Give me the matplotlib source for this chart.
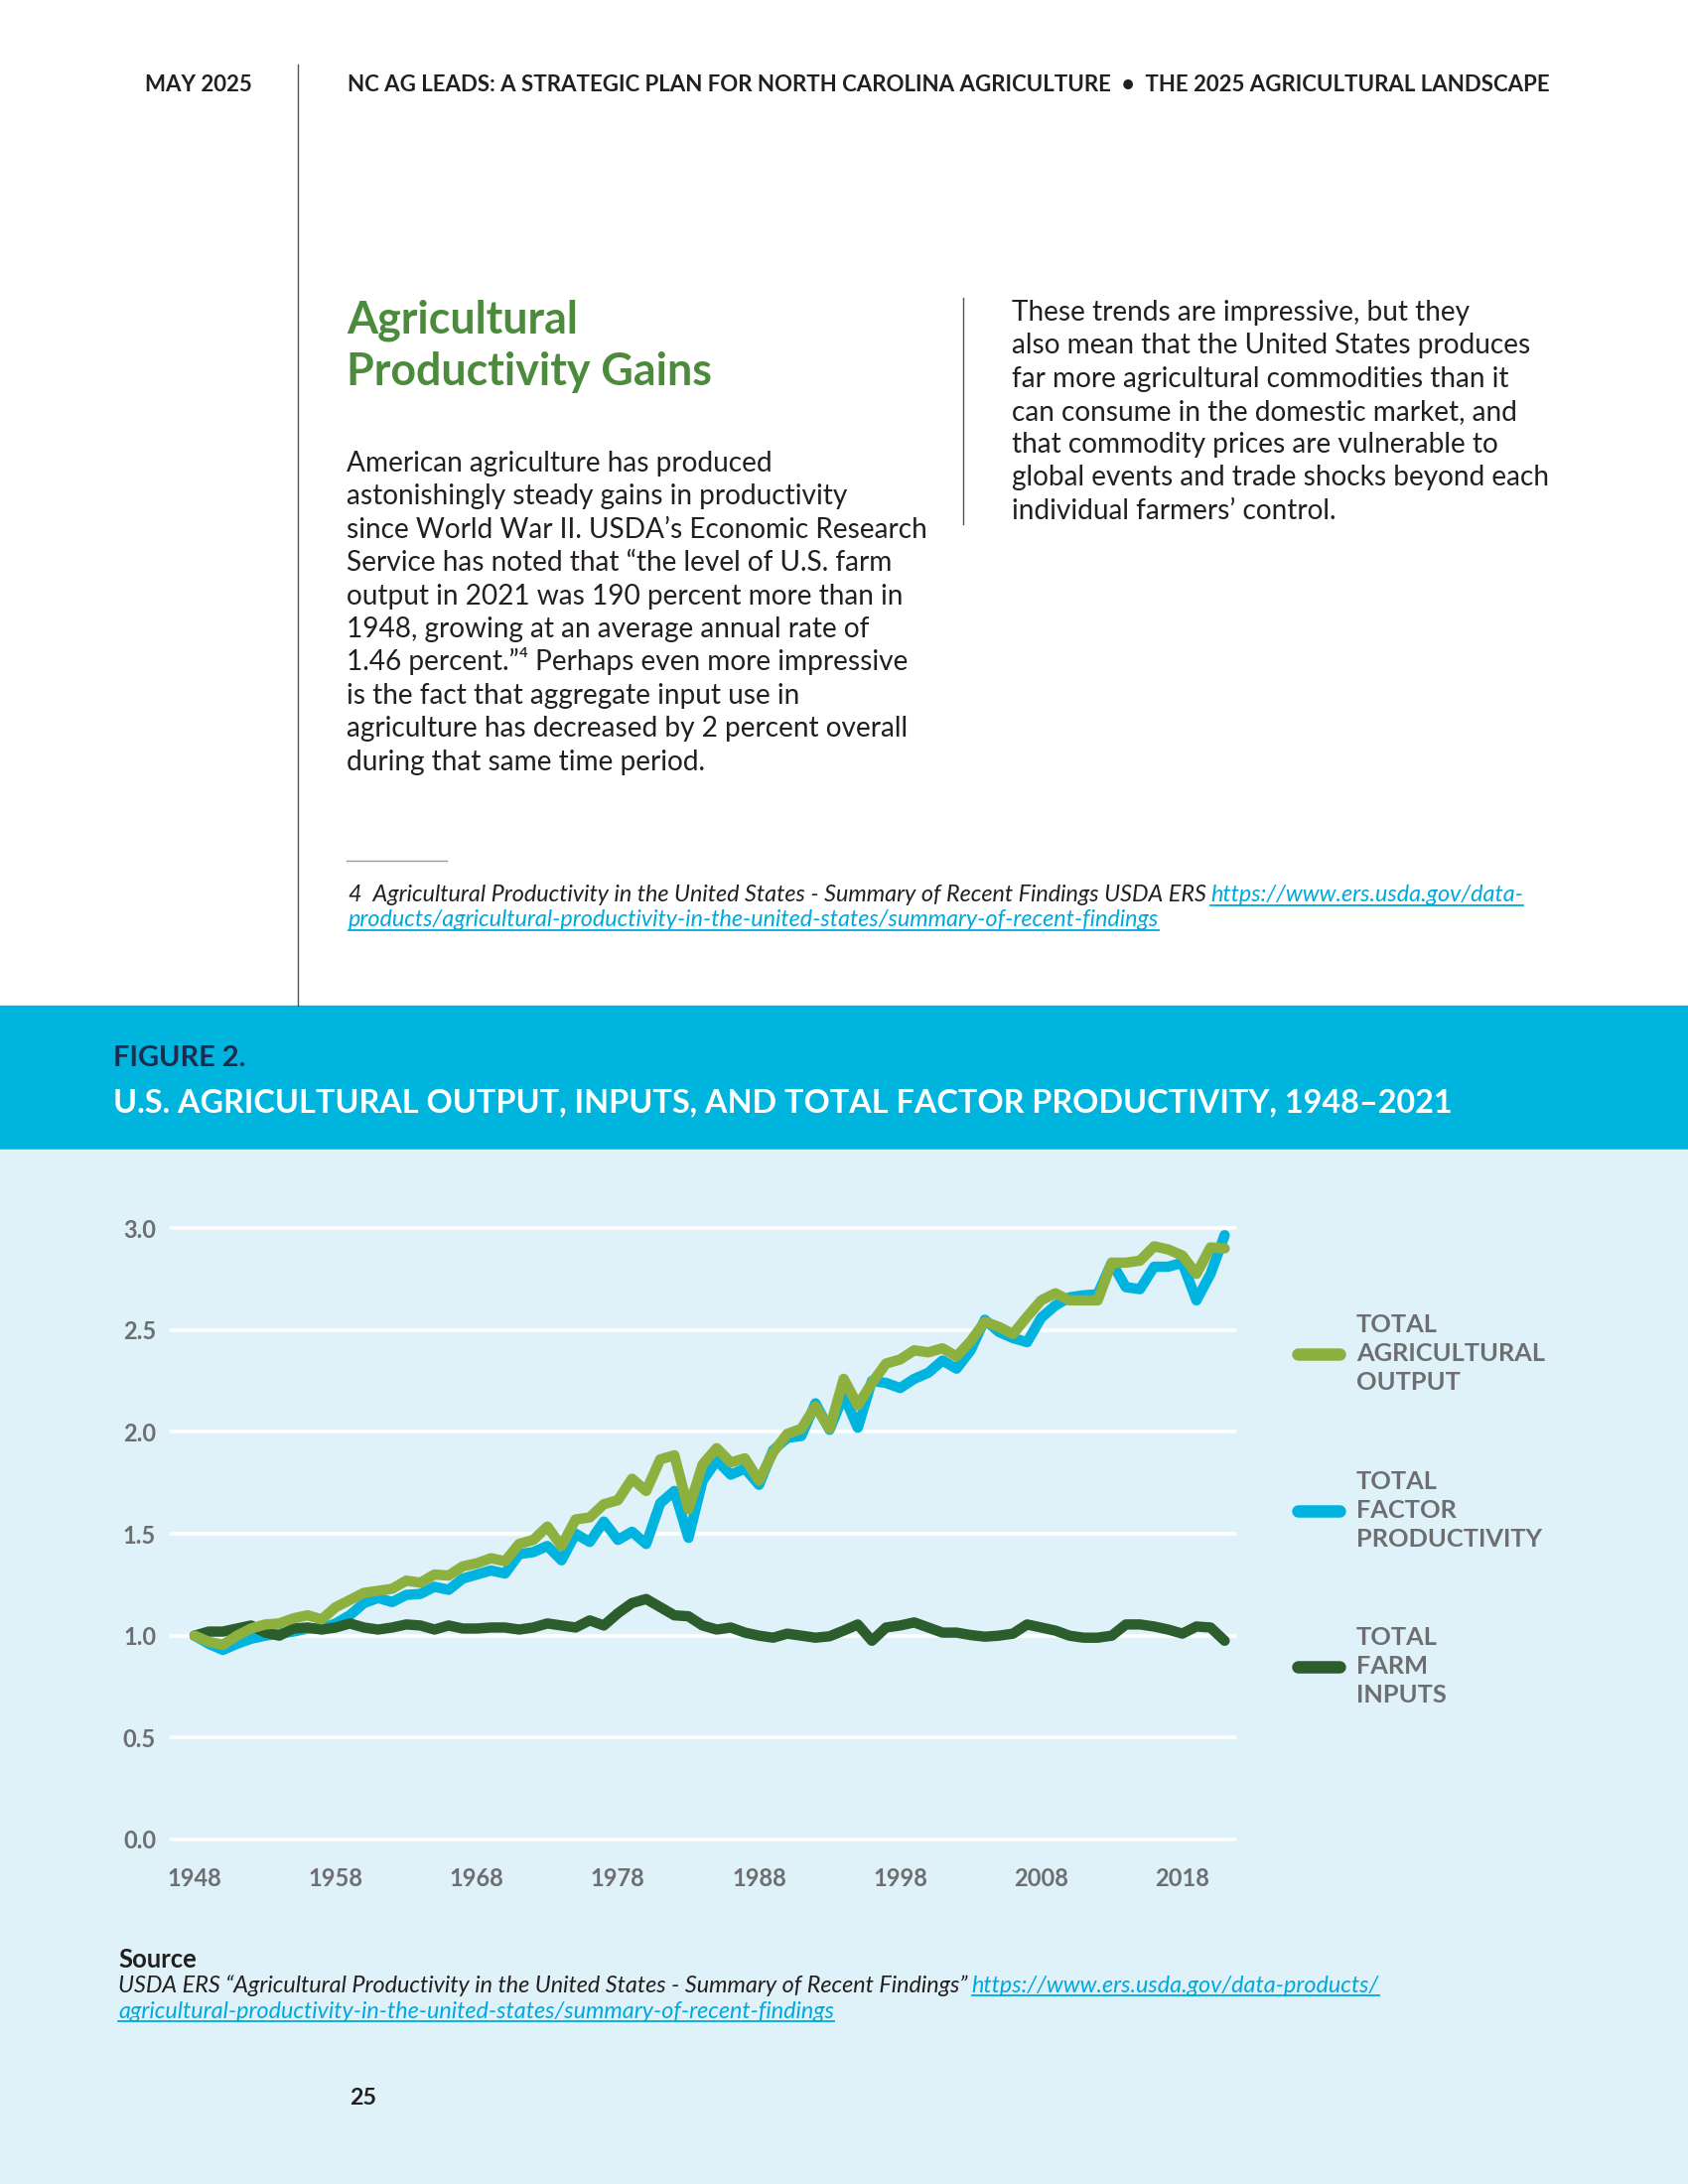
import numpy as np
import matplotlib.pyplot as plt
from matplotlib.patches import Rectangle
from matplotlib.lines import Line2D

# ---- data (index, 1948 = 1.0) ----
years = np.arange(1948, 2022)

output_idx = [1.00, 0.97, 0.955, 1.00, 1.035, 1.055, 1.06, 1.085, 1.10, 1.08,
              1.14, 1.175, 1.21, 1.22, 1.23, 1.27, 1.26, 1.30, 1.295, 1.34,
              1.355, 1.38, 1.365, 1.45, 1.47, 1.535, 1.44, 1.57, 1.58, 1.645,
              1.665, 1.77, 1.71, 1.865, 1.885, 1.62, 1.84, 1.92, 1.85, 1.87,
              1.76, 1.90, 1.99, 2.015, 2.125, 2.015, 2.26, 2.13, 2.24, 2.335,
              2.355, 2.40, 2.39, 2.41, 2.37, 2.445, 2.54, 2.515, 2.48, 2.565,
              2.645, 2.68, 2.645, 2.645, 2.645, 2.83, 2.83, 2.84, 2.91, 2.895,
              2.865, 2.775, 2.905, 2.90]

tfp_idx = [1.00, 0.96, 0.93, 0.96, 0.985, 1.00, 1.01, 1.02, 1.035, 1.035,
           1.06, 1.10, 1.16, 1.185, 1.165, 1.20, 1.205, 1.24, 1.225, 1.28,
           1.30, 1.32, 1.305, 1.40, 1.41, 1.44, 1.37, 1.50, 1.46, 1.56,
           1.47, 1.51, 1.45, 1.65, 1.71, 1.48, 1.76, 1.86, 1.79, 1.82,
           1.74, 1.91, 1.97, 1.98, 2.14, 2.01, 2.18, 2.02, 2.25, 2.24,
           2.215, 2.26, 2.29, 2.35, 2.31, 2.40, 2.55, 2.49, 2.46, 2.44,
           2.56, 2.62, 2.66, 2.67, 2.675, 2.83, 2.71, 2.70, 2.81, 2.81,
           2.83, 2.645, 2.775, 2.965]

inputs_idx = [1.00, 1.02, 1.02, 1.035, 1.05, 1.015, 1.00, 1.035, 1.04, 1.03,
              1.04, 1.06, 1.04, 1.03, 1.04, 1.055, 1.05, 1.03, 1.05, 1.035,
              1.035, 1.04, 1.04, 1.03, 1.04, 1.06, 1.05, 1.04, 1.075, 1.05,
              1.11, 1.16, 1.18, 1.14, 1.10, 1.095, 1.05, 1.03, 1.04, 1.015,
              1.00, 0.99, 1.01, 1.00, 0.99, 0.997, 1.025, 1.055, 0.975, 1.04,
              1.05, 1.065, 1.04, 1.015, 1.015, 1.003, 0.995, 1.00, 1.01, 1.055,
              1.04, 1.025, 1.00, 0.99, 0.99, 1.00, 1.055, 1.055, 1.045, 1.03,
              1.01, 1.045, 1.04, 0.975]

series_names = [["TOTAL", "AGRICULTURAL", "OUTPUT"],
                ["TOTAL", "FACTOR", "PRODUCTIVITY"],
                ["TOTAL", "FARM", "INPUTS"]]
x_ticks = [1948, 1958, 1968, 1978, 1988, 1998, 2008, 2018]
y_ticks = [0.0, 0.5, 1.0, 1.5, 2.0, 2.5, 3.0]

GREEN = "#8db03f"
BLUE = "#00b4df"
DARK = "#2b5e2c"
GRAY = "#6d6e71"
INK = "#231f20"
LINK = "#00a9dc"

plt.rcParams['font.family'] = ['Lato', 'DejaVu Sans']

W, H = 1700, 2200
fig = plt.figure(figsize=(17, 22), dpi=100)
fig.patch.set_facecolor("white")
rend = fig.canvas.get_renderer()


def put(x, y, s, **kw):
    kw.setdefault("va", "baseline")
    kw.setdefault("ha", "left")
    return fig.text(x / W, 1 - y / H, s, **kw)


def fit(t, width):
    bb = t.get_window_extent(rend)
    t.set_fontsize(t.get_fontsize() * width / bb.width)
    return t.get_fontsize()


def hline(x0, x1, y, color, lw):
    fig.add_artist(Line2D([x0 / W, x1 / W], [1 - y / H, 1 - y / H],
                          transform=fig.transFigure, color=color, lw=lw))


def vline(x, y0, y1, color, lw):
    fig.add_artist(Line2D([x / W, x / W], [1 - y0 / H, 1 - y1 / H],
                          transform=fig.transFigure, color=color, lw=lw))


def link_after(t, s, y, size, underline_y):
    bb = t.get_window_extent(rend)
    x = bb.x1 + 4
    lt = put(x, y, s, fontsize=size, style="italic", color=LINK)
    lb = lt.get_window_extent(rend)
    hline(lb.x0, lb.x1, underline_y, LINK, 1.3)
    return lt


# backgrounds
fig.add_artist(Rectangle((0, 1 - 1158 / H), 1, (1158 - 1013) / H,
                         transform=fig.transFigure, color="#00b5dd", zorder=0))
fig.add_artist(Rectangle((0, 0), 1, 1 - 1158 / H,
                         transform=fig.transFigure, color="#dff1f9", zorder=0))

# header
vline(300, 65, 1013, "#555555", 1.0)
t = put(350, 92, "NC AG LEADS: A STRATEGIC PLAN FOR NORTH CAROLINA AGRICULTURE  \u2022  THE 2025 AGRICULTURAL LANDSCAPE",
        fontsize=14, weight="bold", color=INK)
hs = fit(t, 1215)
put(146, 92, "MAY 2025", fontsize=hs, weight="bold", color=INK)

# green heading
t = put(349, 388, "Productivity Gains", fontsize=28, weight="bold", color="#4b8b3b")
gs = fit(t, 368)
put(349, 336, "Agricultural", fontsize=gs, weight="bold", color="#4b8b3b")

left_lines = [
    "American agriculture has produced",
    "astonishingly steady gains in productivity",
    "since World War II. USDA\u2019s Economic Research",
    "Service has noted that \u201cthe level of U.S. farm",
    "output in 2021 was 190 percent more than in",
    "1948, growing at an average annual rate of",
    "1.46 percent.\u201d\u2074 Perhaps even more impressive",
    "is the fact that aggregate input use in",
    "agriculture has decreased by 2 percent overall",
    "during that same time period.",
]
t = put(349, 475, left_lines[0], fontsize=17, color=INK)
bs = fit(t, 427)
for i, s in enumerate(left_lines[1:], start=1):
    put(349, 475 + i * 33.4, s, fontsize=bs, color=INK)

right_lines = [
    "These trends are impressive, but they",
    "also mean that the United States produces",
    "far more agricultural commodities than it",
    "can consume in the domestic market, and",
    "that commodity prices are vulnerable to",
    "global events and trade shocks beyond each",
    "individual farmers\u2019 control.",
]
for i, s in enumerate(right_lines):
    put(1019, 323 + i * 33.3, s, fontsize=bs, color=INK)
vline(970, 300, 528, "#555555", 1.0)

# footnote
hline(349, 450, 867, "#999999", 1.0)
t2 = put(351, 933, "products/agricultural-productivity-in-the-united-states/summary-of-recent-findings",
         fontsize=12, style="italic", color=LINK)
fs = fit(t2, 812)
lb = t2.get_window_extent(rend)
hline(lb.x0, lb.x1, 937, LINK, 1.3)
t1 = put(351, 908, "4  Agricultural Productivity in the United States - Summary of Recent Findings USDA ERS",
         fontsize=fs, style="italic", color=INK)
link_after(t1, "https://www.ers.usda.gov/data-", 908, fs, 912)

# figure title band
t = put(114, 1074, "FIGURE 2.", fontsize=18, weight="bold", color="#1f2a4d")
fit(t, 133)
t = put(114, 1120, "U.S. AGRICULTURAL OUTPUT, INPUTS, AND TOTAL FACTOR PRODUCTIVITY, 1948\u20132021",
        fontsize=20, weight="bold", color="white")
fit(t, 1348)

# chart
ax = fig.add_axes([171 / W, 1 - 1869.4 / H, 1074 / W, 648.8 / H])
ax.set_facecolor("none")
ax.plot(years, tfp_idx, color=BLUE, lw=7.5, solid_capstyle="round",
        solid_joinstyle="round", zorder=3)
ax.plot(years, inputs_idx, color=DARK, lw=7.5, solid_capstyle="round",
        solid_joinstyle="round", zorder=4)
ax.plot(years, output_idx, color=GREEN, lw=7.5, solid_capstyle="round",
        solid_joinstyle="round", zorder=5)
ax.set_xlim(1946.24, 2021.82)
ax.set_ylim(-0.08, 3.08)
ax.set_yticks(y_ticks)
ax.set_yticklabels([f"{v:.1f}" for v in y_ticks])
ax.set_xticks(x_ticks)
ax.grid(axis="y", color="white", lw=2.6, zorder=1)
ax.grid(axis="x", visible=False)
ax.set_axisbelow(True)
for sp in ax.spines.values():
    sp.set_visible(False)
ax.tick_params(axis="both", length=0, labelsize=17, labelcolor=GRAY)
ax.tick_params(axis="y", pad=10)
ax.tick_params(axis="x", pad=8)
for lab in ax.get_xticklabels() + ax.get_yticklabels():
    lab.set_fontweight("bold")

# legend
leg_colors = [GREEN, BLUE, DARK]
leg_y = [1364, 1522, 1679]
t = put(1366, 0, "AGRICULTURAL", fontsize=16, weight="bold", color=GRAY)
ls = fit(t, 190)
t.remove()
for names, col, y in zip(series_names, leg_colors, leg_y):
    fig.add_artist(Line2D([1307 / W, 1349 / W], [1 - y / H, 1 - y / H],
                          transform=fig.transFigure, color=col, lw=9,
                          solid_capstyle="round"))
    for j, s in enumerate(names):
        put(1366, y - 22 + j * 29, s, fontsize=ls, weight="bold", color=GRAY)

# source
put(119, 1982, "Source", fontsize=fs * 1.1, weight="bold", color=INK)
s2 = put(119, 2033, "agricultural-productivity-in-the-united-states/summary-of-recent-findings",
         fontsize=12, style="italic", color=LINK)
ss = fit(s2, 718)
lb = s2.get_window_extent(rend)
hline(lb.x0, lb.x1, 2036, LINK, 1.3)
s1 = put(119, 2007, "USDA ERS \u201cAgricultural Productivity in the United States - Summary of Recent Findings\u201d",
         fontsize=ss, style="italic", color=INK)
link_after(s1, "https://www.ers.usda.gov/data-products/", 2007, ss, 2010)

put(352, 2120, "25", fontsize=hs * 1.05, weight="bold", color=INK)

fig.savefig("out.png", dpi=100)
